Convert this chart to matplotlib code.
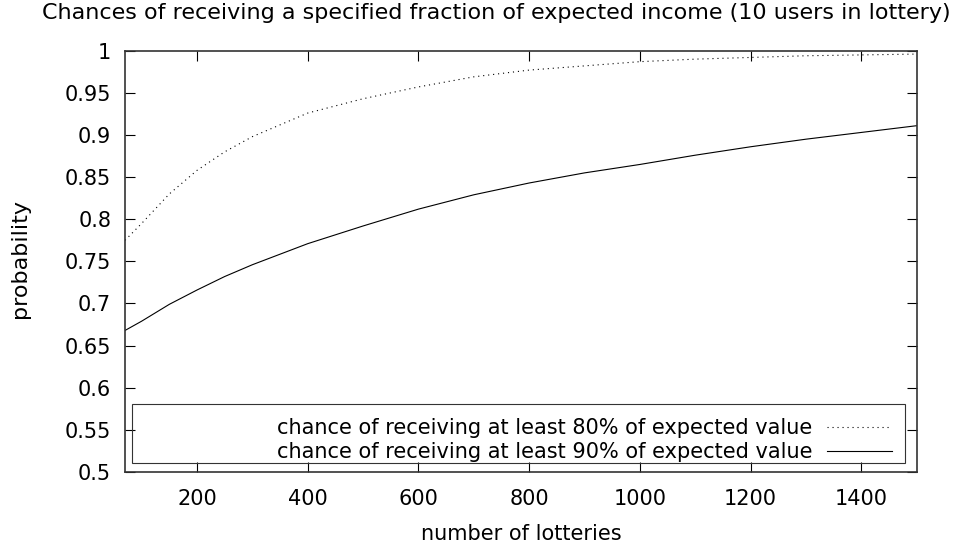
import matplotlib.pyplot as plt
from matplotlib.patches import Rectangle

# number of lotteries and probabilities read per curve
lotteries = [70, 100, 150, 200, 250, 300, 400, 500, 600, 700, 800,
             900, 1000, 1100, 1200, 1300, 1400, 1500]
p80 = [0.775, 0.795, 0.830, 0.858, 0.880, 0.898, 0.926, 0.943, 0.957,
       0.969, 0.977, 0.982, 0.987, 0.990, 0.992, 0.994, 0.995, 0.996]
p90 = [0.668, 0.679, 0.699, 0.716, 0.732, 0.746, 0.771, 0.792, 0.812,
       0.829, 0.843, 0.855, 0.865, 0.876, 0.886, 0.895, 0.903, 0.911]

xticks = [200, 400, 600, 800, 1000, 1200, 1400]
yticks = [0.5, 0.55, 0.6, 0.65, 0.7, 0.75, 0.8, 0.85, 0.9, 0.95, 1]
ylabels = ["0.5", "0.55", "0.6", "0.65", "0.7", "0.75", "0.8", "0.85",
           "0.9", "0.95", "1"]

plt.rcParams['font.family'] = 'DejaVu Sans'
plt.rcParams['lines.scale_dashes'] = False
fs = 15

fig = plt.figure(figsize=(9.56, 5.47), dpi=100)
ax = fig.add_axes([0.1308, 0.1371, 0.8281, 0.7702])

ax.plot(lotteries, p80, color="black", lw=0.8, linestyle=(0, (0.8, 2.8)),
        label="chance of receiving at least 80% of expected value")
ax.plot(lotteries, p90, color="black", lw=0.8,
        label="chance of receiving at least 90% of expected value")

ax.set_xlim(70, 1500)
ax.set_ylim(0.5, 1)
ax.set_xticks(xticks)
ax.set_yticks(yticks)
ax.set_yticklabels(ylabels)
ax.tick_params(direction="in", top=True, right=True, length=7, width=0.8,
               labelsize=fs, colors="black")
ax.tick_params(axis="y", pad=10)
ax.tick_params(axis="x", pad=12)
for s in ax.spines.values():
    s.set_linewidth(1.2)
    s.set_color("#333333")

ax.set_xlabel("number of lotteries", fontsize=fs, labelpad=11)
fig.text(20 / 956, 1 - 258 / 547, "probability", fontsize=16,
         rotation=90, ha="center", va="center")
fig.text(496 / 956, 1 - 13 / 547,
         "Chances of receiving a specified fraction of expected income (10 users in lottery)",
         fontsize=16, ha="center", va="center")

# legend frame spans almost the full plot width
ax.add_patch(Rectangle((0.0088, 0.021), 0.976, 0.14, transform=ax.transAxes,
                       fill=False, lw=0.8, edgecolor="#333333", zorder=3))
ax.legend(loc="lower right", bbox_to_anchor=(0.971, 0.018), frameon=False,
          markerfirst=False, fontsize=fs, handlelength=3.1, handletextpad=0.7,
          labelspacing=0.2, borderpad=0.1, borderaxespad=0)

fig.savefig("out.png", dpi=100)
